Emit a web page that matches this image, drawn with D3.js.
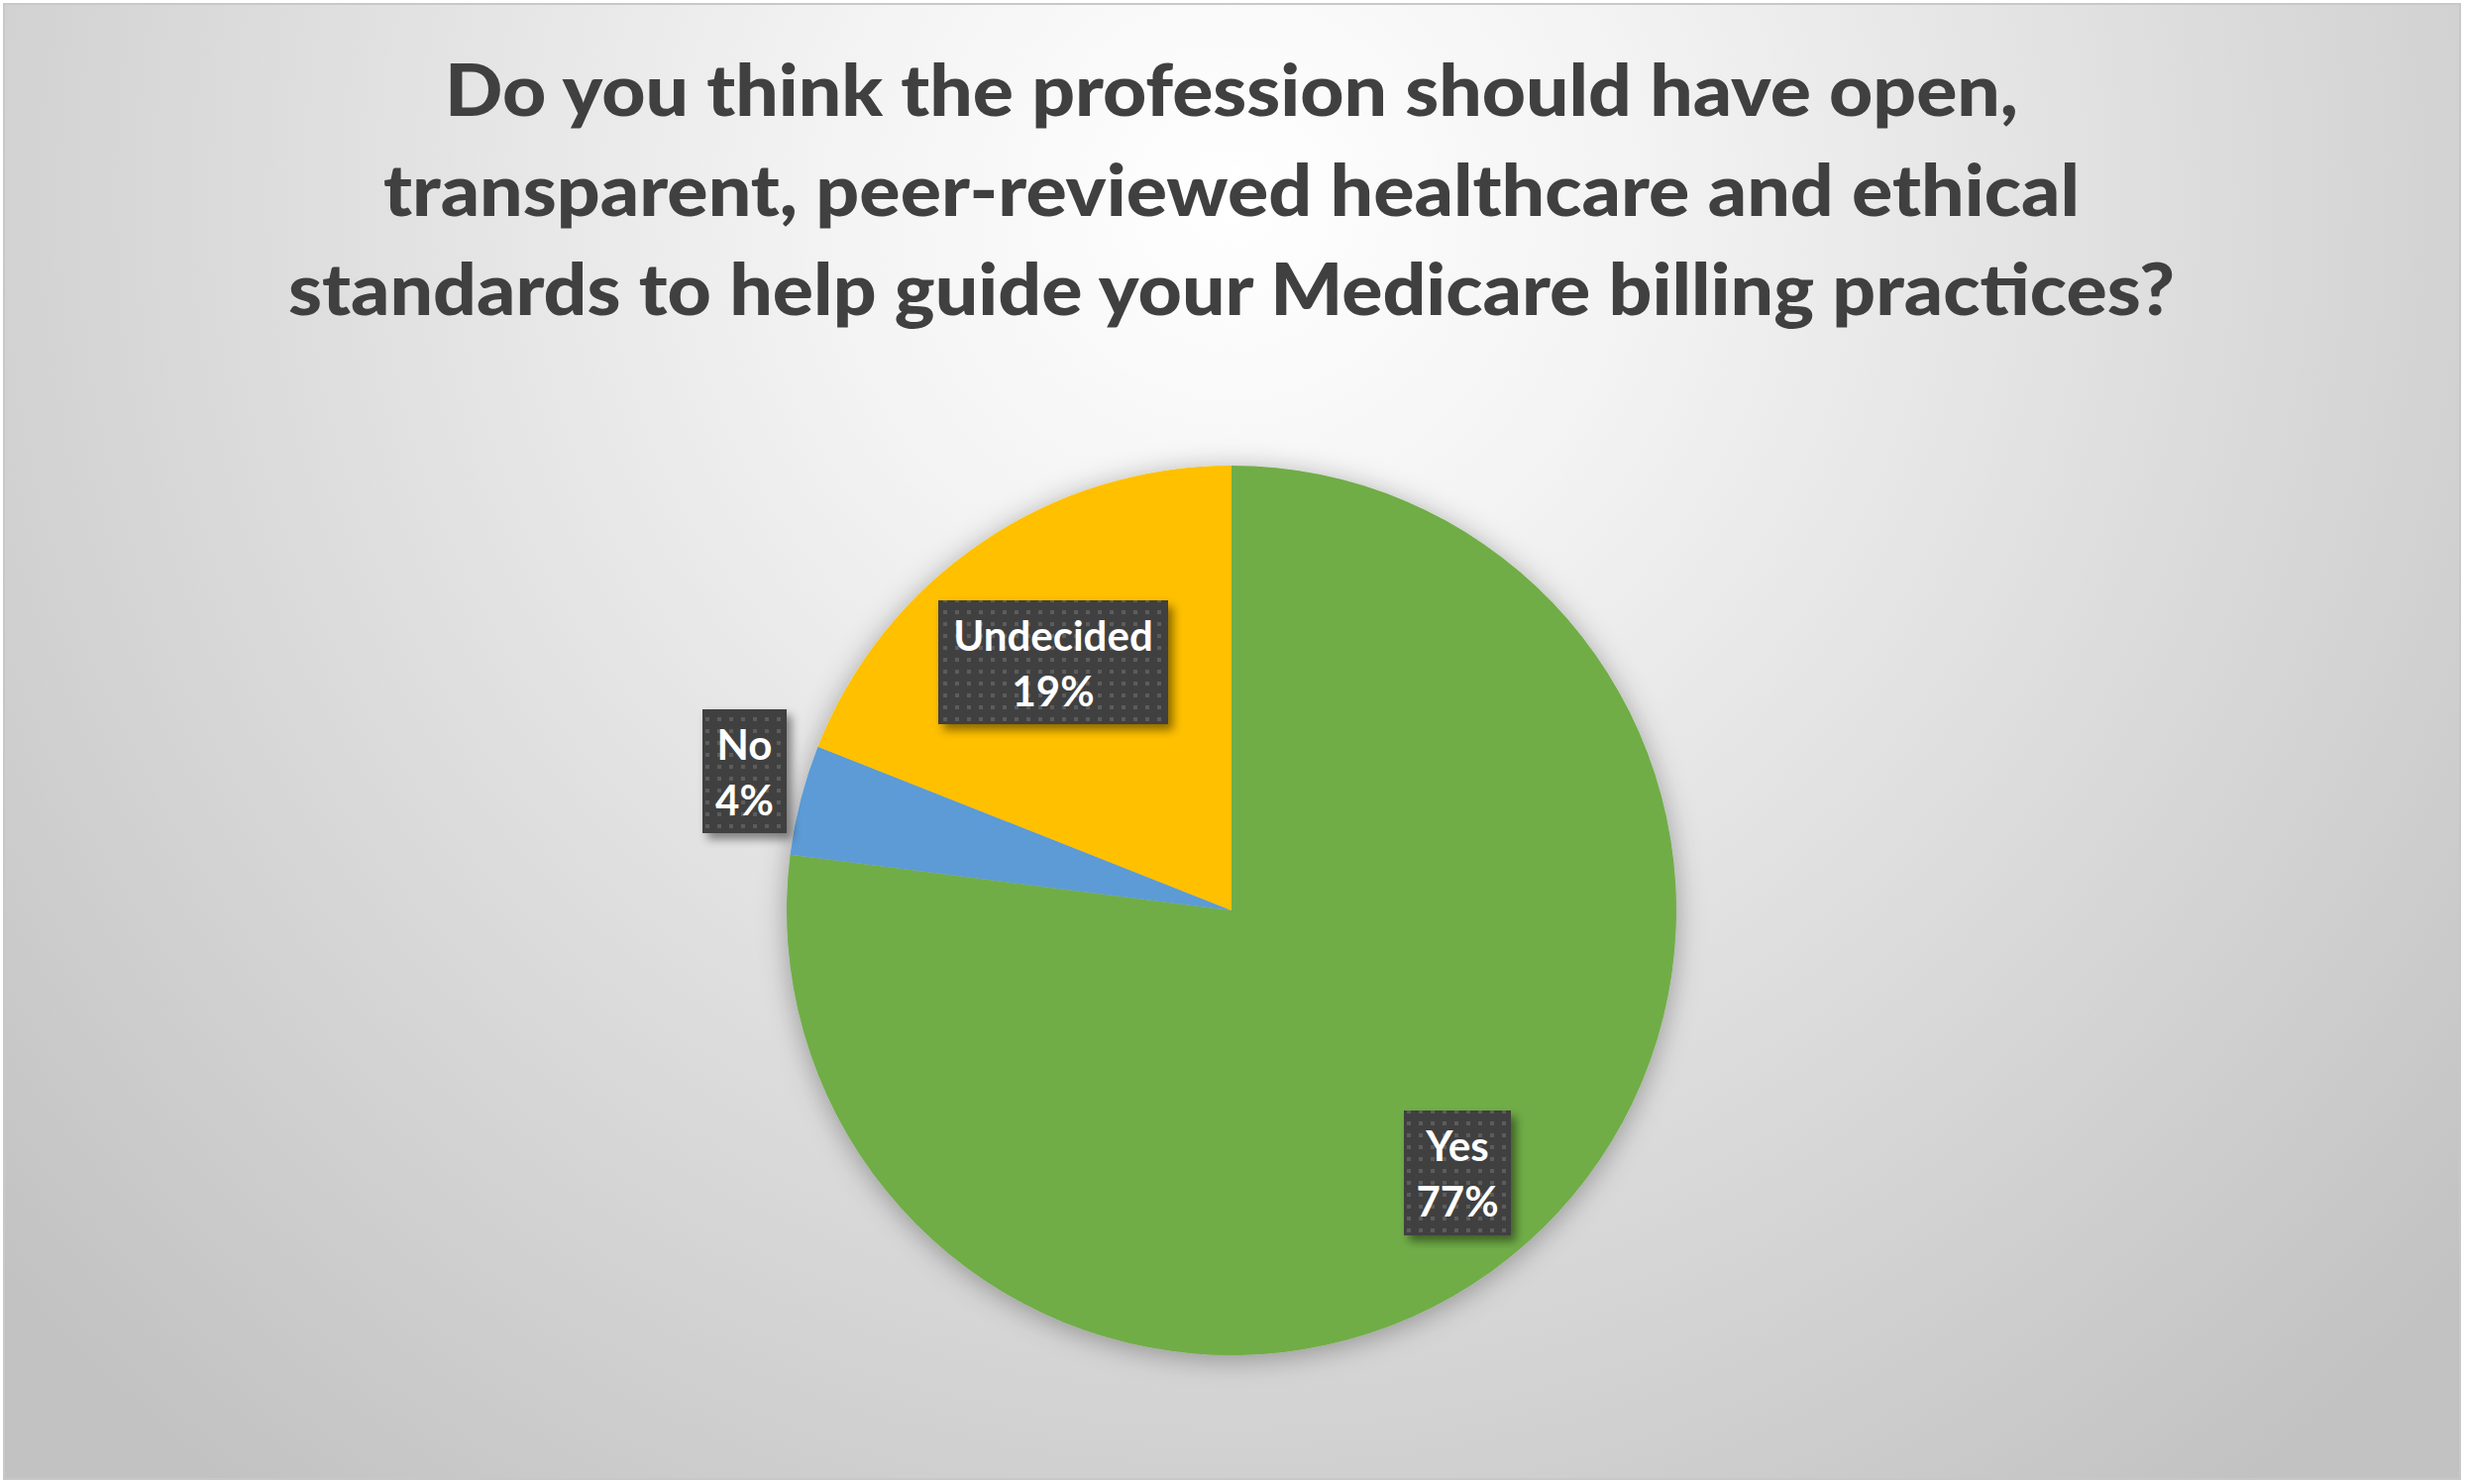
<!DOCTYPE html>
<html>
<head>
<meta charset="utf-8">
<script src="https://cdn.jsdelivr.net/npm/d3@7"></script>
<style>
  html, body { margin: 0; padding: 0; background: #ffffff; }
  svg { display: block; }
</style>
</head>
<body>
<svg id="chart" width="2488" height="1498"></svg>
<script>
// ---- data ----
const categories = ["Yes", "No", "Undecided"];
const values = [77, 4, 19];
const colors = ["#70AD47", "#5B9BD5", "#FFC000"];
const titleLines = [
  "Do you think the profession should have open,",
  "transparent, peer-reviewed healthcare and ethical",
  "standards to help guide your Medicare billing practices?"
];

// ---- layout ----
const W = 2488, H = 1498;
const cx = 1243, cy = 919, R = 449;
const titleBaselines = [117, 218, 318];
const titleWidths = [1588, 1712, 1904];
const labelFont = "Lato, 'Open Sans', sans-serif";

const svg = d3.select("#chart");
const defs = svg.append("defs");

// background gradient
const bg = defs.append("radialGradient")
  .attr("id", "bgGrad")
  .attr("gradientUnits", "userSpaceOnUse")
  .attr("cx", 1244).attr("cy", 200).attr("r", 1650)
  .attr("fx", 1244).attr("fy", 200);
bg.append("stop").attr("offset", 0).attr("stop-color", "#ffffff");
bg.append("stop").attr("offset", 0.25).attr("stop-color", "#f3f3f3");
bg.append("stop").attr("offset", 0.6).attr("stop-color", "#dcdcdc");
bg.append("stop").attr("offset", 1).attr("stop-color", "#c2c2c2");

// pie shadow
const fPie = defs.append("filter").attr("id", "pieShadow")
  .attr("x", "-20%").attr("y", "-20%").attr("width", "140%").attr("height", "140%");
fPie.append("feDropShadow").attr("dx", 0).attr("dy", 4).attr("stdDeviation", 14)
  .attr("flood-color", "#000").attr("flood-opacity", 0.32);

// label shadow
const fLab = defs.append("filter").attr("id", "labShadow")
  .attr("x", "-30%").attr("y", "-30%").attr("width", "160%").attr("height", "160%");
fLab.append("feDropShadow").attr("dx", 5).attr("dy", 6).attr("stdDeviation", 5)
  .attr("flood-color", "#000").attr("flood-opacity", 0.45);

// dotted pattern for label boxes
const pat = defs.append("pattern").attr("id", "dots")
  .attr("patternUnits", "userSpaceOnUse").attr("width", 12).attr("height", 12);
pat.append("rect").attr("width", 12).attr("height", 12).attr("fill", "#404040");
pat.append("rect").attr("x", 4).attr("y", 4).attr("width", 4).attr("height", 4).attr("fill", "#5c5c5c");

// chart area
svg.append("rect").attr("x", 4).attr("y", 4).attr("width", 2479).attr("height", 1489)
  .attr("fill", "url(#bgGrad)").attr("stroke", "#c8c8c8").attr("stroke-width", 2);

// title
const title = svg.append("g");
titleLines.forEach((t, i) => {
  title.append("text")
    .attr("x", W / 2 - 1).attr("y", titleBaselines[i])
    .attr("text-anchor", "middle")
    .attr("font-family", labelFont)
    .attr("font-weight", 900)
    .attr("font-size", 72)
    .attr("fill", "#404040")
    .attr("textLength", titleWidths[i])
    .attr("lengthAdjust", "spacingAndGlyphs")
    .text(t);
});

// pie
const pie = d3.pie().sort(null).value(d => d)(values);
const arc = d3.arc().innerRadius(0).outerRadius(R);
const g = svg.append("g").attr("transform", `translate(${cx},${cy})`);
const slices = g.append("g").attr("filter", "url(#pieShadow)");
slices.selectAll("path").data(pie).join("path")
  .attr("d", arc)
  .attr("fill", (d, i) => colors[i]);

// data labels (box positions)
const labelBoxes = [
  { x: 1417, y: 1121, w: 108, h: 126 },
  { x: 709, y: 716, w: 85, h: 125 },
  { x: 947, y: 606, w: 232, h: 125 }
];
const lab = svg.append("g");
categories.forEach((c, i) => {
  const b = labelBoxes[i];
  const lg = lab.append("g");
  lg.append("rect").attr("x", b.x).attr("y", b.y).attr("width", b.w).attr("height", b.h)
    .attr("fill", "url(#dots)").attr("filter", "url(#labShadow)");
  const mx = b.x + b.w / 2;
  lg.append("text").attr("x", mx).attr("y", b.y + 51)
    .attr("text-anchor", "middle").attr("font-family", labelFont)
    .attr("font-weight", 700).attr("font-size", 42).attr("fill", "#ffffff")
    .text(c);
  const pct = Math.round(values[i] / d3.sum(values) * 100) + "%";
  lg.append("text").attr("x", mx).attr("y", b.y + 107)
    .attr("text-anchor", "middle").attr("font-family", labelFont)
    .attr("font-weight", 700).attr("font-size", 42).attr("fill", "#ffffff")
    .text(pct);
});
</script>
</body>
</html>
